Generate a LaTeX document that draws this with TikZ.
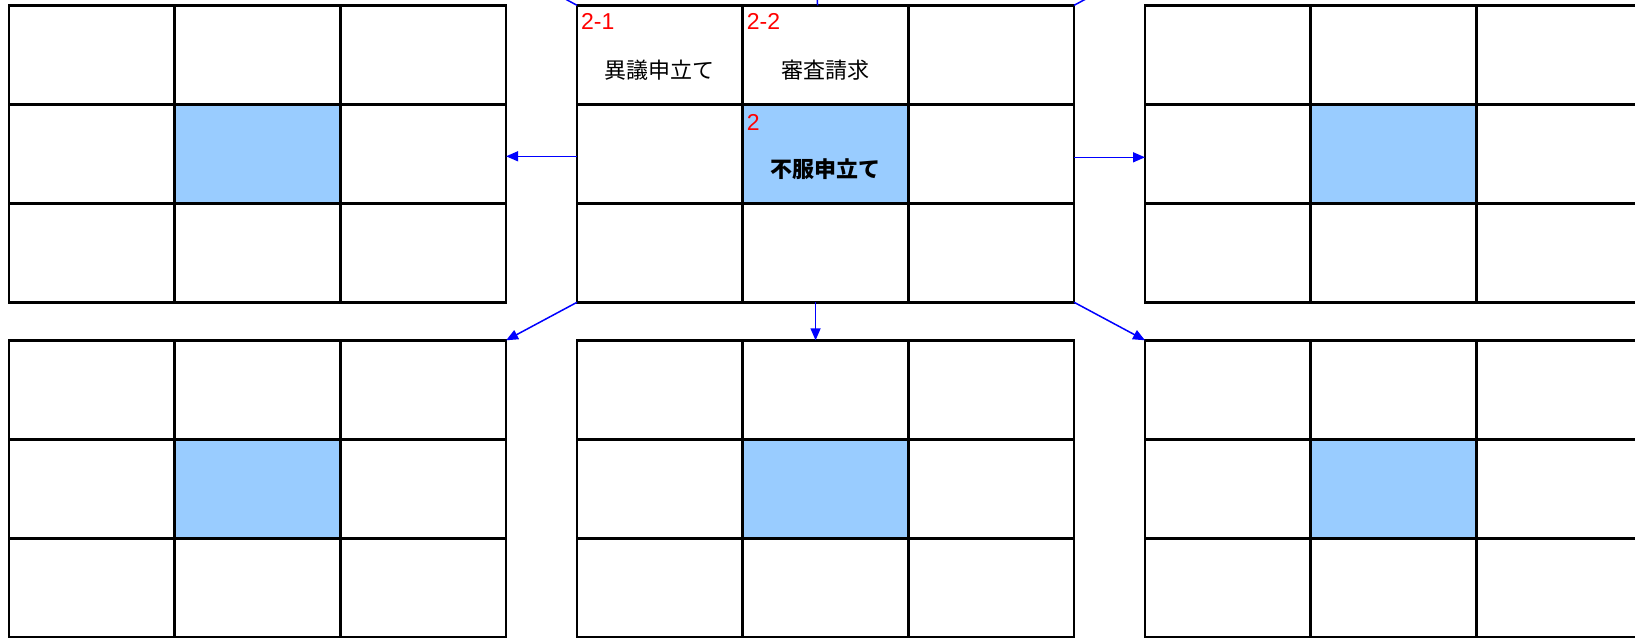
\documentclass[tikz,border=0pt]{standalone}
\usepackage{fontspec}
\setmainfont{Liberation Sans}
\newfontfamily\jp{Noto Sans CJK JP}
\usetikzlibrary{arrows.meta}
\definecolor{hotblue}{HTML}{99CCFF}

\tikzstyle{cell} = [draw, line width=2.5pt, minimum width=165.7pt, minimum height=99pt, inner sep=0pt, outer sep=0pt]
\tikzstyle{hot} = [cell, fill=hotblue]
\tikzstyle{num} = [anchor=north west, text=red, inner sep=0pt, font=\fontsize{23pt}{27pt}\selectfont]
\tikzstyle{word} = [inner sep=0pt, font=\jp\fontsize{22pt}{26pt}\selectfont]
\tikzstyle{arr} = [draw=blue, line width=1.5pt, -{Triangle[length=12pt,width=10pt]}]

\begin{document}
\begin{tikzpicture}[x=1pt, y=-1pt]
\useasboundingbox (0,0) rectangle (1635,637);
\clip (0,0) rectangle (1635,637);
\foreach \g/\gx/\gy in {L/9/5.3, C/577/5.3, R/1145/5.3, BL/9/340.3, B/577/340.3, BR/1145/340.3}{
  \foreach \r in {1,2,3}{
    \foreach \c in {1,2,3}{
      \node[cell] (\g-\r-\c) at ({\gx+(\c-0.5)*165.7}, {\gy+(\r-0.5)*99}) {};
    }
  }
  \node[hot] (\g-2-2) at ({\gx+1.5*165.7}, {\gy+1.5*99}) {};
}

\node[num] (n21) at ([xshift=4pt,yshift=-8pt]C-1-1.north west) {2-1};
\node[num] (n22) at ([xshift=4pt,yshift=-8pt]C-1-2.north west) {2-2};
\node[num] (n2) at ([xshift=4pt,yshift=-10pt]C-2-2.north west) {2};
\node[word] (w21) at ([yshift=-15pt]C-1-1.center) {異議申立て};
\node[word] (w22) at ([yshift=-15pt]C-1-2.center) {審査請求};
\node[word] (w2) at ([yshift=-15pt]C-2-2.center) {\bfseries 不服申立て};

\coordinate (TL) at (506,-33);
\coordinate (T) at (816,-33);
\coordinate (TR) at (1145,-33);
\draw[arr] (C-1-1.north west) -- (TL);
\draw[arr] ([xshift=-8pt]C-1-2.north) -- (T);
\draw[arr] (C-1-3.north east) -- (TR);
\draw[arr] ([yshift=-2.5pt]C-2-1.west) -- ([yshift=-2.5pt]L-2-3.east);
\draw[arr] ([yshift=-3.5pt]C-2-3.east) -- ([yshift=-3.5pt]R-2-1.west);
\draw[arr] (C-3-1.south west) -- (BL-1-3.north east);
\draw[arr] ([xshift=-10pt]C-3-2.south) -- ([xshift=-10pt]B-1-2.north);
\draw[arr] (C-3-3.south east) -- (BR-1-1.north west);
\end{tikzpicture}
\end{document}
